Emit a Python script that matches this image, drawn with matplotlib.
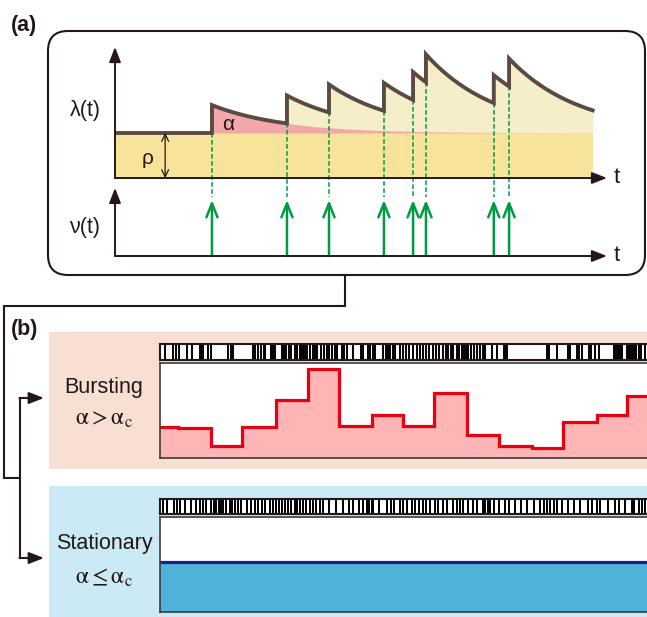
import numpy as np
import matplotlib
matplotlib.use("Agg")
import matplotlib.pyplot as plt
from matplotlib.patches import FancyBboxPatch, Rectangle

plt.rcParams['font.family'] = ['Liberation Sans', 'DejaVu Sans']
plt.rcParams['mathtext.fontset'] = 'stix'

W, H = 647, 617

# (a) self-exciting process: event times, baseline, jump size, decay rate
event_times = [2.03, 3.60, 4.48, 5.63, 6.24, 6.51, 7.93, 8.25]
rho = 1.0
alpha = 0.62
beta = 0.68
t_end = 10.0

# (b) bursting regime: binned rate + spike raster (time in arbitrary units)
burst_edges = [0, 18, 51, 82, 116, 148, 179, 212, 243, 274, 307, 339, 372, 403, 437, 467, 487]
burst_rate = [3.26, 3.16, 1.26, 3.26, 6.1, 9.37, 3.37, 4.53, 3.37, 6.84, 2.42, 1.26, 1.05, 3.79, 4.53, 6.53]
burst_spikes = [5, 13, 16, 19, 27, 32, 40, 41, 43, 48, 51, 68, 71, 73, 93, 95, 98, 101, 104, 105,
                111, 113, 115, 122, 124, 126, 129, 131, 135, 137, 140, 141, 143, 145, 147, 150, 153,
                155, 157, 161, 164, 167, 169, 172, 175, 177, 182, 184, 187, 193, 201, 203, 208, 210,
                213, 215, 223, 226, 228, 230, 233, 235, 240, 243, 246, 249, 253, 257, 260, 263, 266,
                269, 273, 276, 279, 283, 286, 288, 291, 293, 297, 299, 302, 304, 306, 308, 311, 314,
                317, 320, 323, 325, 332, 337, 344, 345, 347, 387, 389, 397, 408, 410, 417, 419, 422,
                429, 431, 435, 439, 454, 455, 457, 459, 460, 462, 467, 469, 470, 472, 474, 476, 479,
                481, 485]

# stationary regime
stat_edges = [0, 487]
stat_rate = [5.26]
stat_spikes = [3, 7, 14, 17, 20, 25, 31, 36, 40, 43, 46, 51, 54, 56, 59, 61, 63, 66, 70, 72, 75, 78,
               81, 87, 91, 95, 98, 102, 105, 110, 113, 116, 119, 122, 125, 128, 131, 135, 137, 140,
               143, 146, 150, 153, 156, 160, 163, 169, 176, 183, 189, 193, 199, 203, 207, 209, 212,
               213, 219, 227, 231, 234, 240, 243, 247, 252, 255, 259, 263, 266, 270, 275, 278, 283,
               287, 293, 297, 300, 303, 308, 313, 317, 323, 325, 328, 330, 334, 339, 345, 349, 355,
               361, 367, 374, 380, 384, 387, 390, 394, 397, 402, 408, 414, 420, 428, 432, 437, 440,
               448, 455, 459, 465, 472, 474, 479, 482, 485]

ink = '#231815'
brown = '#5A4A42'
green = '#009944'
frame = '#3E3A39'


def frac(x0, y0, x1, y1):
    return [x0 / W, 1 - y1 / H, (x1 - x0) / W, (y1 - y0) / H]


fig = plt.figure(figsize=(W / 100, H / 100), dpi=100)

# background layer in pixel units
bg = fig.add_axes([0, 0, 1, 1])
bg.set_xlim(0, W)
bg.set_ylim(H, 0)
bg.axis('off')

bg.add_patch(FancyBboxPatch((48, 31), 597, 244, boxstyle="round,pad=0,rounding_size=20",
                            fc='white', ec=ink, lw=1.5))
bg.add_patch(Rectangle((49, 332), 600, 137, fc='#F8DFD3', ec='none'))
bg.add_patch(Rectangle((49, 486), 600, 135, fc='#CCEAF5', ec='none'))

bg.text(11, 25, '(a)', fontsize=15.5, fontweight='bold', va='center', ha='left', color=ink)
bg.text(11, 330, '(b)', fontsize=15.5, fontweight='bold', va='center', ha='left', color=ink)

bg.plot([345, 345, 4, 4, 20], [275, 306, 306, 478, 478], color=ink, lw=1.5, solid_joinstyle='miter')
bg.plot([20, 20], [398, 558], color=ink, lw=1.5)
for yy in [398, 558]:
    bg.annotate('', xy=(44, yy), xytext=(19.5, yy),
                arrowprops=dict(arrowstyle='-|>,head_length=0.9,head_width=0.35', color=ink,
                                lw=1.5, shrinkA=0, shrinkB=0, mutation_scale=10))

bg.text(104, 388, 'Bursting', fontsize=15.5, ha='center', va='center', color=ink)
bg.text(104, 419, r'$\mathrm{\alpha} > \mathrm{\alpha}_\mathrm{c}$', fontsize=17, ha='center', va='center', color=ink)
bg.text(104, 543, 'Stationary', fontsize=15.5, ha='center', va='center', color=ink)
bg.text(104, 578, r'$\mathrm{\alpha} \leq \mathrm{\alpha}_\mathrm{c}$', fontsize=17, ha='center', va='center', color=ink)

# ---- (a) intensity and events ----
axA = fig.add_axes(frac(115, 47, 607, 256))
axA.set_xlim(0, 10.3)
nu_base = -1.733
axA.set_ylim(nu_base, 2.911)
axA.axis('off')

bounds = [0.0] + event_times + [t_end]
tt, lam = [], []
for a, b in zip(bounds[:-1], bounds[1:]):
    seg = np.linspace(a, b, 60)
    past = [ti for ti in event_times if ti <= a]
    vals = np.full_like(seg, rho)
    for ti in past:
        vals = vals + alpha * np.exp(-beta * (seg - ti))
    tt.append(seg)
    lam.append(vals)
tt = np.concatenate(tt)
lam = np.concatenate(lam)

t1 = event_times[0]
m = tt >= t1
axA.fill_between([0, t_end], 0, rho, color='#F8E39B', lw=0, zorder=1)
axA.fill_between(tt[m], rho, lam[m], color='#F6EDC9', lw=0, zorder=1)
axA.fill_between(tt[m], rho, rho + alpha * np.exp(-beta * (tt[m] - t1)), color='#F2A8AA', lw=0, zorder=1.5)
axA.plot(tt, lam, color=brown, lw=2.8, solid_joinstyle='miter', zorder=4)

for ti in event_times:
    pre = rho + sum(alpha * np.exp(-beta * (ti - tj)) for tj in event_times if tj < ti)
    axA.plot([ti, ti], [pre, -0.42], color=green, lw=1.1, ls=(0, (3, 1.6)), zorder=3)
    axA.annotate('', xy=(ti, -0.49), xytext=(ti, nu_base),
                 arrowprops=dict(arrowstyle='->,head_length=1.0,head_width=0.4', color=green,
                                 lw=1.8, shrinkA=0, shrinkB=0, mutation_scale=10), zorder=3)

arrow_kw = dict(arrowstyle='-|>,head_length=0.9,head_width=0.35', color=ink, lw=1.4,
                shrinkA=0, shrinkB=0, mutation_scale=10)
axA.annotate('', xy=(10.3, 0), xytext=(0, 0), arrowprops=arrow_kw, annotation_clip=False, zorder=5)
axA.annotate('', xy=(0, 2.911), xytext=(0, 0), arrowprops=arrow_kw, annotation_clip=False, zorder=5)
axA.annotate('', xy=(10.3, nu_base), xytext=(0, nu_base), arrowprops=arrow_kw, annotation_clip=False, zorder=5)
axA.annotate('', xy=(0, -0.22), xytext=(0, nu_base), arrowprops=arrow_kw, annotation_clip=False, zorder=5)

axA.annotate('', xy=(1.05, 0), xytext=(1.05, rho),
             arrowprops=dict(arrowstyle='<->,head_length=0.5,head_width=0.25', color=ink, lw=0.9,
                             shrinkA=0, shrinkB=0, mutation_scale=10), zorder=5)
axA.text(0.69, 0.44, 'ρ', fontsize=15, ha='center', va='center', color=ink)
axA.text(2.36, 1.2, 'α', fontsize=15, ha='center', va='center', color=ink, zorder=6)
axA.text(-0.63, 1.51, 'λ(t)', fontsize=15.5, ha='center', va='center', color=ink, clip_on=False)
axA.text(-0.63, -1.11, 'ν(t)', fontsize=15.5, ha='center', va='center', color=ink, clip_on=False)
axA.text(10.51, 0.02, 't', fontsize=16, ha='center', va='center', color=ink, clip_on=False)
axA.text(10.51, nu_base + 0.02, 't', fontsize=16, ha='center', va='center', color=ink, clip_on=False)


# ---- (b) raster strips and rate panels ----
def style_box(ax, color, lw):
    ax.set_xticks([])
    ax.set_yticks([])
    ax.spines['right'].set_visible(False)
    for s in ['left', 'top', 'bottom']:
        ax.spines[s].set_color(color)
        ax.spines[s].set_linewidth(lw)


for spikes, box in [(burst_spikes, (160, 344, 647, 360)), (stat_spikes, (160, 499, 647, 514))]:
    axr = fig.add_axes(frac(*box))
    axr.vlines(spikes, 0, 1, color='black', lw=1.4)
    axr.set_xlim(0, 487)
    axr.set_ylim(0, 1)
    style_box(axr, ink, 1.5)

axB = fig.add_axes(frac(160, 363, 647, 458))
axB.stairs(burst_rate, burst_edges, fill=True, color='#FFB4B6', baseline=0)
axB.stairs(burst_rate, burst_edges, baseline=None, color='#E60012', lw=2.3)
axB.set_xlim(0, 487)
axB.set_ylim(0, 10)
style_box(axB, frame, 1.2)

axS = fig.add_axes(frac(160, 517, 647, 612))
axS.stairs(stat_rate, stat_edges, fill=True, color='#4EB2DB', baseline=0)
axS.stairs(stat_rate, stat_edges, baseline=None, color='#1D2088', lw=2.3)
axS.set_xlim(0, 487)
axS.set_ylim(0, 10)
style_box(axS, frame, 1.2)

fig.savefig('out.png', dpi=100)
